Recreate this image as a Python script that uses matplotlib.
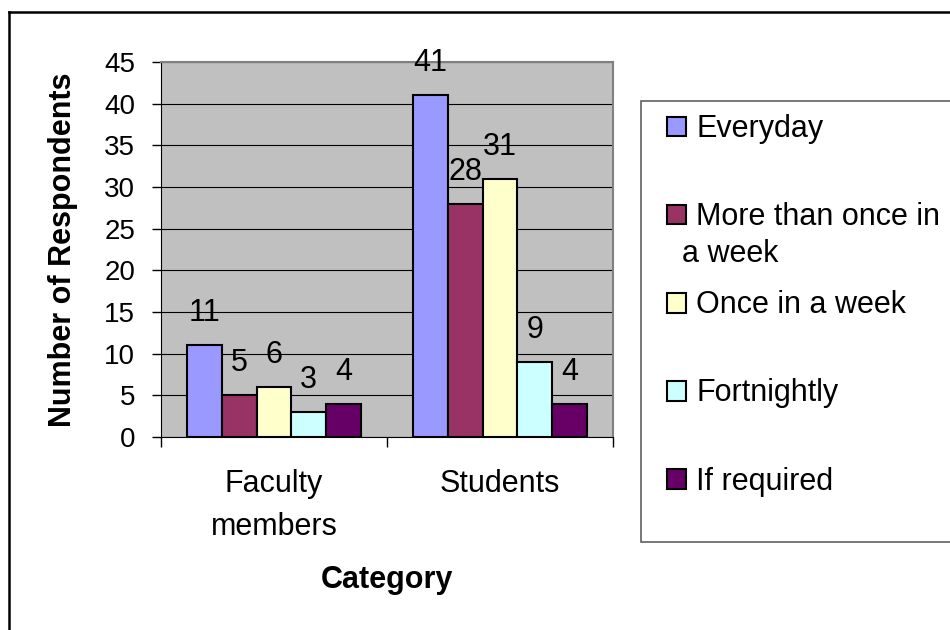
import matplotlib
matplotlib.use("Agg")
import matplotlib.pyplot as plt
from matplotlib.lines import Line2D
from matplotlib.patches import Rectangle
import numpy as np

plt.rcParams['font.family'] = ['Liberation Sans', 'DejaVu Sans']

# data
categories = ['Faculty\nmembers', 'Students']
series_names = ['Everyday', 'More than once in', 'Once in a week', 'Fortnightly', 'If required']
everyday = [11, 41]
more_than_once = [5, 28]
once_week = [6, 31]
fortnightly = [3, 9]
if_required = [4, 4]
series_values = [everyday, more_than_once, once_week, fortnightly, if_required]
colors = ['#9999FF', '#993366', '#FFFFCC', '#CCFFFF', '#660066']

W, H = 950, 630
fig = plt.figure(figsize=(9.5, 6.3), dpi=100)

# plot area in pixels: x 161..613, y 62..437
ax = fig.add_axes([161 / W, 1 - 437 / H, (613 - 161) / W, (437 - 62) / H])
ax.set_facecolor('#C0C0C0')

x = np.arange(len(categories))
bw = 1 / 6.5
bars = []
for i, vals in enumerate(series_values):
    b = ax.bar(x + (i - 2) * bw, vals, bw, color=colors[i], edgecolor='black',
               linewidth=1.5, zorder=3)
    bars.append(b)
    for xi, v in zip(x + (i - 2) * bw, vals):
        ax.annotate(str(v), (xi, v), xytext=(0, 17.3), textcoords='offset points',
                    ha='center', va='baseline', fontsize=22, zorder=4)

ax.set_xlim(-0.5, 1.5)
ax.set_ylim(0, 45)
ax.set_yticks(np.arange(0, 46, 5))
ax.yaxis.grid(True, color='black', linewidth=0.8, zorder=1)
ax.set_axisbelow(True)

ax.set_xticks(x)
ax.set_xticklabels(categories, fontsize=22, linespacing=1.55)
ax.set_xticks([-0.5, 0.5, 1.5], minor=True)
ax.tick_params(axis='x', which='major', length=0, pad=23)
ax.tick_params(axis='x', which='minor', length=7, width=1, color='black')
ax.tick_params(axis='y', length=6.5, width=1, pad=12, labelsize=20)

for side in ['top', 'right']:
    ax.spines[side].set_color('#808080')
    ax.spines[side].set_linewidth(1.5)
ax.spines['left'].set_color('black')
ax.spines['bottom'].set_color('black')

# axis titles
fig.text(63.5 / W, 1 - 250 / H, 'Number of Respondents', rotation=90, ha='center',
         va='center', fontsize=22, fontweight='bold')
fig.text(387 / W, 1 - 588 / H, 'Category', ha='center', va='baseline',
         fontsize=22, fontweight='bold')

# legend
fig.add_artist(Rectangle((641 / W, 1 - 542 / H), (970 - 641) / W, (542 - 101) / H,
                         transform=fig.transFigure, facecolor='white',
                         edgecolor='#606060', linewidth=1.2, zorder=0))
leg = fig.legend([b[0] for b in bars], series_names, loc='center left',
                 bbox_to_anchor=(652 / W, 1 - 305.4 / H), frameon=False,
                 fontsize=22, borderpad=0, handlelength=0.62, handleheight=0.62,
                 handletextpad=0.33, labelspacing=1.9)
for h in leg.legend_handles:
    h.set_linewidth(1.5)
fig.text(682 / W, 1 - 262 / H, 'a week', ha='left', va='baseline', fontsize=22)

# outer border
fig.add_artist(Line2D([9 / W, 1.0], [1 - 12 / H, 1 - 12 / H], color='black', linewidth=1.8))
fig.add_artist(Line2D([9 / W, 9 / W], [0, 1 - 12 / H], color='black', linewidth=1.8))

fig.savefig('out.png', dpi=100)
